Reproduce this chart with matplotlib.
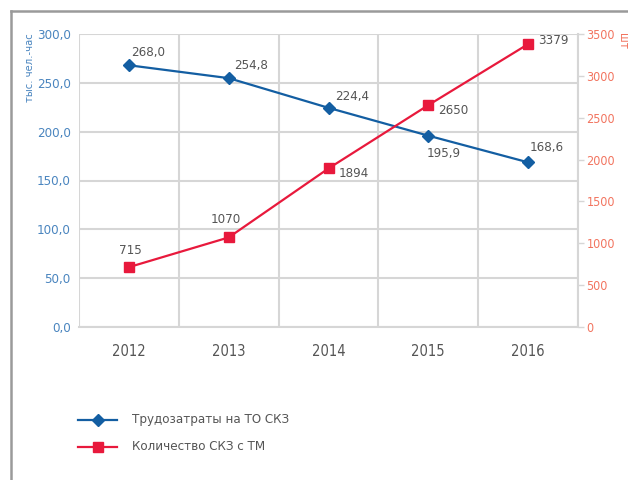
import matplotlib
matplotlib.use("Agg")
import matplotlib.pyplot as plt
from matplotlib.lines import Line2D
from matplotlib.ticker import FuncFormatter, MultipleLocator

plt.rcParams["font.family"] = ["DejaVu Sans"]
plt.rcParams["font.stretch"] = "condensed"

YEARS = ["2012", "2013", "2014", "2015", "2016"]
LABOR = [268.0, 254.8, 224.4, 195.9, 168.6]
UNITS = [715, 1070, 1894, 2650, 3379]

LABOR_NAME = "Трудозатраты на ТО СКЗ"
UNITS_NAME = "Количество СКЗ с ТМ"
LEFT_LABEL = "тыс. чел.-час"
RIGHT_LABEL = "шт"

BLUE = "#135ea2"
RED = "#e8193c"
BLUE_TEXT = "#4a85bf"
RED_TEXT = "#f2745f"
GRID = "#d6d6d6"
TEXT = "#555555"

# offsets in pixels for value labels
LABOR_OFFSETS = [(2, 6), (5, 6), (7, 5), (-2, -24), (2, 8)]
UNITS_OFFSETS = [(-10, 10), (-18, 11), (10, -12), (10, -12), (10, -3)]


def main():
    fig = plt.figure(figsize=(6.28, 4.8), dpi=100)
    ax = fig.add_axes([79 / 628, 1 - 327 / 480, (578 - 79) / 628, (327 - 34) / 480])
    ax2 = ax.twinx()

    x = list(range(len(YEARS)))

    ax.plot(x, LABOR, color=BLUE, linewidth=1.6, marker="D", markersize=6,
            zorder=5, clip_on=False)
    ax2.plot(x, UNITS, color=RED, linewidth=1.6, marker="s", markersize=6.5,
             zorder=5, clip_on=False)

    ax.set_xlim(-0.5, len(YEARS) - 0.5)
    ax.set_ylim(0, 300)
    ax2.set_ylim(0, 3500)
    ax.yaxis.set_major_locator(MultipleLocator(50))
    ax2.yaxis.set_major_locator(MultipleLocator(500))
    ax.yaxis.set_major_formatter(FuncFormatter(lambda v, _: f"{v:.1f}".replace(".", ",")))

    ax.set_xticks(x)
    ax.set_xticklabels(YEARS)
    ax.set_xticks([i - 0.5 for i in range(len(YEARS) + 1)], minor=True)
    ax.grid(True, which="minor", axis="x", color=GRID, linewidth=1.5)
    ax.grid(True, which="major", axis="y", color=GRID, linewidth=1.5)
    ax.set_axisbelow(True)

    ax.tick_params(axis="x", which="both", length=0, pad=12, labelsize=10.5,
                   labelcolor=TEXT)
    ax.tick_params(axis="y", length=0, pad=6, labelsize=9.5, labelcolor=BLUE_TEXT)
    ax2.tick_params(axis="y", length=4, width=1, color=GRID, pad=2,
                    labelsize=9, labelcolor=RED_TEXT)

    for a in (ax, ax2):
        for side in a.spines:
            a.spines[side].set_visible(False)
    ax2.spines["right"].set_visible(True)
    ax2.spines["right"].set_color(GRID)
    ax2.spines["right"].set_linewidth(1.5)
    ax.spines["bottom"].set_visible(True)
    ax.spines["bottom"].set_color(GRID)
    ax.spines["bottom"].set_linewidth(1.5)

    for i, v in enumerate(LABOR):
        dx, dy = LABOR_OFFSETS[i]
        ax.annotate(f"{v:.1f}".replace(".", ","), (i, v), xytext=(dx, dy),
                    textcoords="offset pixels", ha="left", va="bottom",
                    fontsize=9.5, color=TEXT, zorder=6)
    for i, v in enumerate(UNITS):
        dx, dy = UNITS_OFFSETS[i]
        ax2.annotate(str(v), (i, v), xytext=(dx, dy),
                     textcoords="offset pixels", ha="left", va="bottom",
                     fontsize=9.5, color=TEXT, zorder=6)

    fig.text(30 / 628, 1 - 33 / 480, LEFT_LABEL, rotation=90, ha="center",
             va="top", fontsize=8, color=BLUE_TEXT)
    fig.text(622 / 628, 1 - 33 / 480, RIGHT_LABEL, rotation=270, ha="center",
             va="top", fontsize=8.5, color=RED_TEXT)

    # outer frame (left and top)
    fig.add_artist(Line2D([11 / 628, 11 / 628], [0, 1 - 11 / 480],
                          transform=fig.transFigure, color="#9a9a9a", linewidth=1.8))
    fig.add_artist(Line2D([11 / 628, 1], [1 - 11 / 480, 1 - 11 / 480],
                          transform=fig.transFigure, color="#9a9a9a", linewidth=1.8))

    # legend drawn by hand to match the layout
    legend_items = [(LABOR_NAME, BLUE, "D", 6, 420), (UNITS_NAME, RED, "s", 6.5, 447)]
    for name, color, marker, ms, ypix in legend_items:
        yf = 1 - ypix / 480
        fig.add_artist(Line2D([78 / 628, 117 / 628], [yf, yf],
                              transform=fig.transFigure, color=color, linewidth=1.6))
        fig.add_artist(Line2D([98 / 628], [yf], transform=fig.transFigure,
                              color=color, marker=marker, markersize=ms,
                              linestyle="none"))
        fig.text(132 / 628, yf, name, ha="left", va="center", fontsize=9.5,
                 color=TEXT)

    fig.savefig("out.png", dpi=100)
    plt.close(fig)


if __name__ == "__main__":
    main()
